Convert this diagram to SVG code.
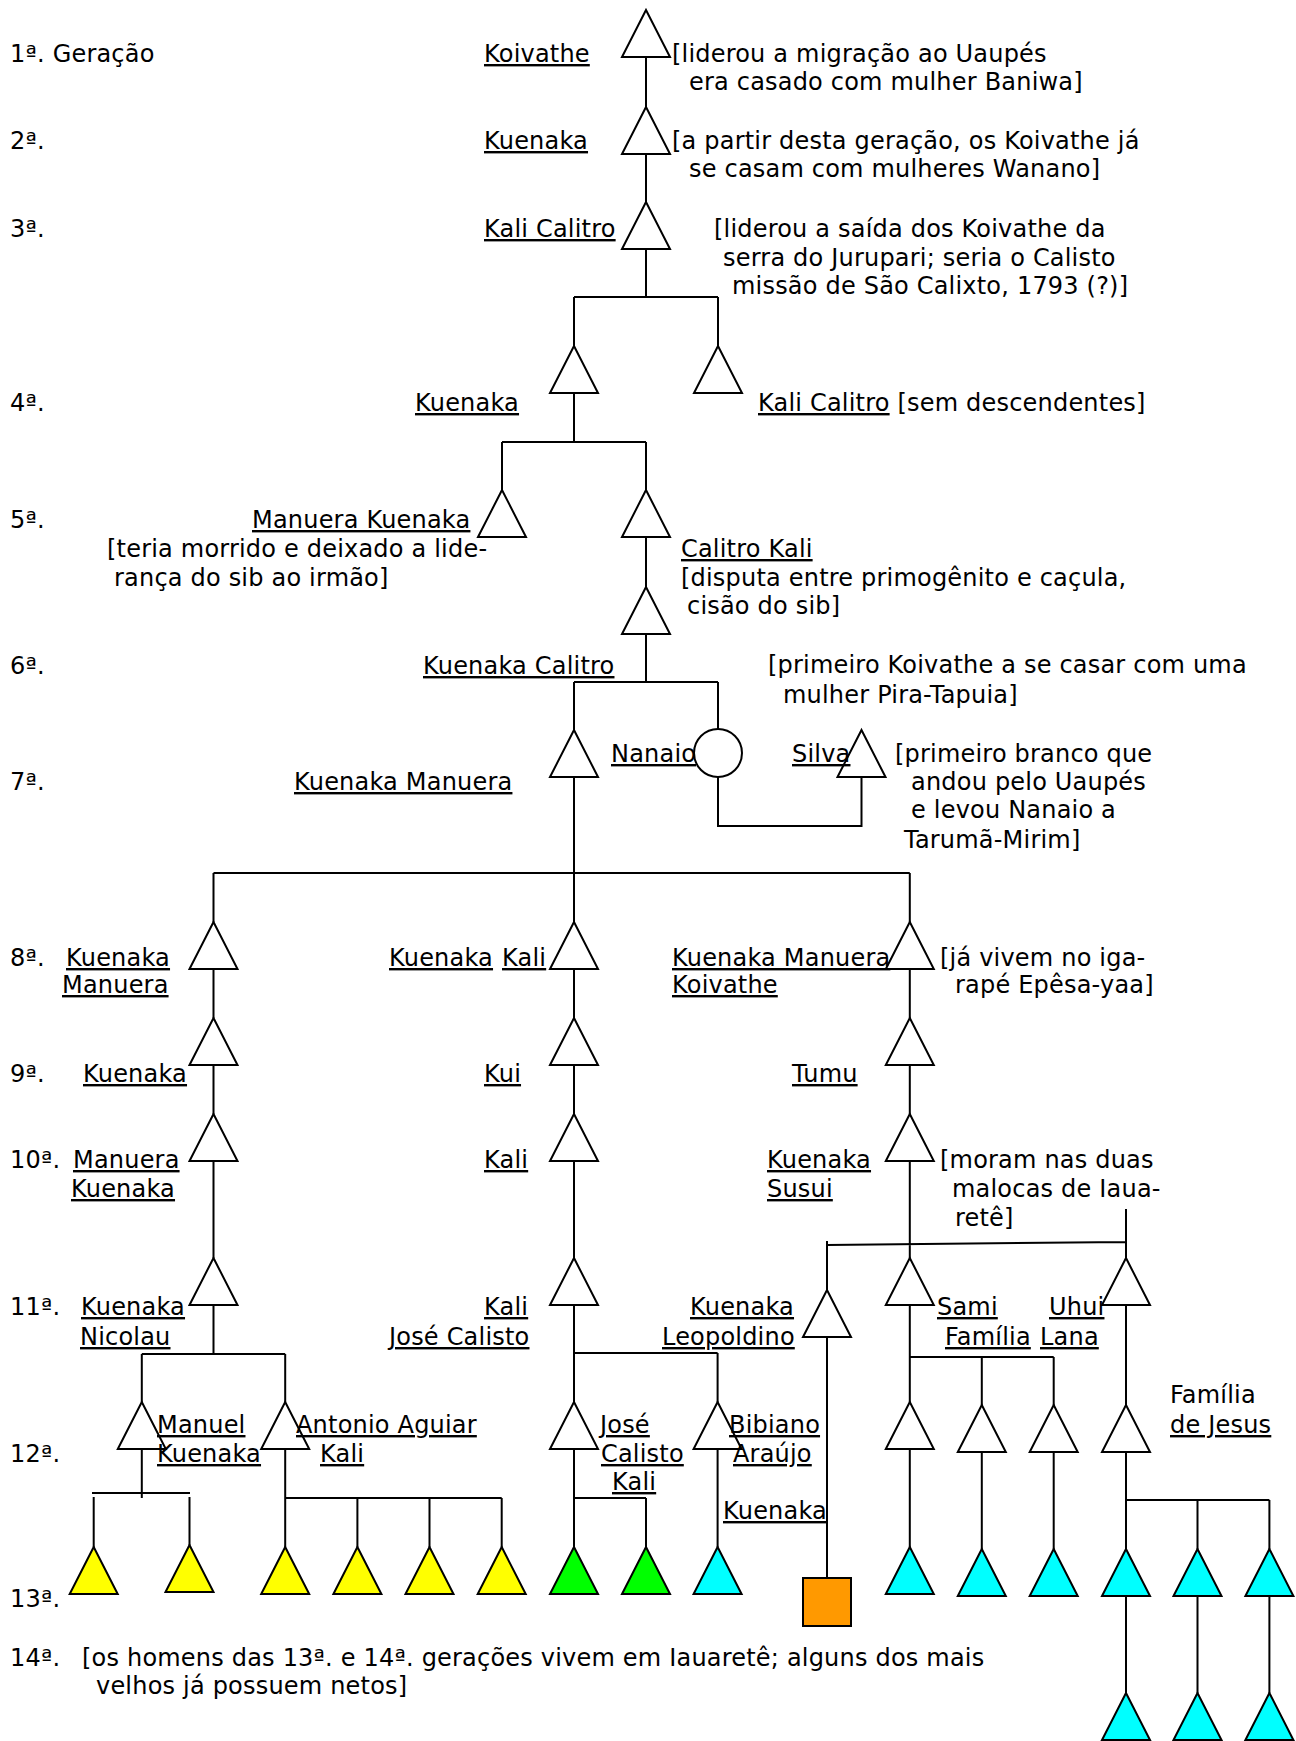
<svg xmlns="http://www.w3.org/2000/svg" xmlns:xlink="http://www.w3.org/1999/xlink" width="1296" height="1741" viewBox="0 0 1296 1741">
<style>
text{font-family:"DejaVu Sans",Verdana,sans-serif;font-size:24px;letter-spacing:0.2px;fill:#000}
.u{text-decoration:underline;text-decoration-thickness:2px;text-underline-offset:3px}
.sh{stroke:#000;stroke-width:2;fill:#fff}
.ye{fill:#ffff00}
.gr{fill:#00ff00}
.cy{fill:#00ffff}
.or{fill:#ff9900;stroke:#000;stroke-width:2}
.ln{stroke:#000;stroke-width:2;fill:none}
</style>
<defs>
<path id="tri" d="M0 0 L24 47 L-24 47 Z"/>
</defs>
<rect width="1296" height="1741" fill="#fff"/>

<g id="connectors" class="ln">
<path d="M646 57V107M646 154V202M646 249V297M574 297H718M574 297V346M718 297V346"/>
<path d="M574 393V442M502 442H646M502 442V490M646 442V490M646 537V587"/>
<path d="M646 634V682M574 682H718M574 682V730M718 682V729"/>
<path d="M718 777V826H861.5V777"/>
<path d="M574 777V873M213.5 873H909.8M213.5 873V922M574 873V922M909.8 873V922"/>
<path d="M213.5 969V1018M213.5 1065V1114M213.5 1161V1258M213.5 1305V1354M141.8 1354H285.2M141.8 1354V1402M285.2 1354V1402"/>
<path d="M141.8 1449V1498M92 1493H190M93.7 1497V1547M189.5 1497V1545"/>
<path d="M285.2 1449V1547M285.2 1498H501.7M357.4 1498V1547M429.5 1498V1547M501.7 1498V1547"/>
<path d="M574 969V1018M574 1065V1114M574 1161V1258M574 1305V1402M574 1353H717.6M717.6 1353V1402"/>
<path d="M574 1449V1547M574 1498H646M646 1498V1547M717.6 1449V1547"/>
<path d="M909.8 969V1018M909.8 1065V1114M909.8 1161V1258M827 1245L1126 1242M827 1241V1290M1126 1209V1258M827 1337V1578"/>
<path d="M909.8 1305V1402M909.8 1357H1053.7M981.8 1357V1405M1053.7 1357V1405M909.8 1449V1547M981.8 1452V1549M1053.7 1452V1549"/>
<path d="M1126 1305V1405M1126 1452V1549M1126 1500H1269.4M1197.5 1500V1549M1269.4 1500V1549"/>
<path d="M1126 1596V1693M1197.5 1596V1693M1269.4 1596V1693"/>
</g>

<g id="generations">
<text x="10" y="62">1ª. Geração</text>
<text x="10" y="149">2ª.</text>
<text x="10" y="237">3ª.</text>
<text x="10" y="411">4ª.</text>
<text x="10" y="528">5ª.</text>
<text x="10" y="674">6ª.</text>
<text x="10" y="790">7ª.</text>
<text x="10" y="966">8ª.</text>
<text x="10" y="1082">9ª.</text>
<text x="10" y="1168">10ª.</text>
<text x="10" y="1315">11ª.</text>
<text x="10" y="1462">12ª.</text>
<text x="10" y="1607">13ª.</text>
<text x="10" y="1666">14ª.</text>
</g>

<g id="n-koivathe"><use href="#tri" x="646" y="10" class="sh"/><text class="u" x="484" y="62">Koivathe</text>
<text x="672" y="62">[liderou a migração ao Uaupés</text><text x="689" y="90">era casado com mulher Baniwa]</text></g>
<g id="n-kuenaka2"><use href="#tri" x="646" y="107" class="sh"/><text class="u" x="484" y="149">Kuenaka</text>
<text x="672" y="149">[a partir desta geração, os Koivathe já</text><text x="689" y="177">se casam com mulheres Wanano]</text></g>
<g id="n-kalicalitro3"><use href="#tri" x="646" y="202" class="sh"/><text class="u" x="484" y="237">Kali Calitro</text>
<text x="714" y="237">[liderou a saída dos Koivathe da</text><text x="723" y="266">serra do Jurupari; seria o Calisto</text><text x="732" y="294">missão de São Calixto, 1793 (?)]</text></g>
<g id="n-kuenaka4"><use href="#tri" x="574" y="346" class="sh"/><text class="u" x="415" y="411">Kuenaka</text></g>
<g id="n-kalicalitro4"><use href="#tri" x="718" y="346" class="sh"/><text x="758" y="411"><tspan class="u">Kali Calitro</tspan><tspan> [sem descendentes]</tspan></text></g>
<g id="n-manuerakuenaka5"><use href="#tri" x="502" y="490" class="sh"/><text class="u" x="252" y="528">Manuera Kuenaka</text>
<text x="107" y="557">[teria morrido e deixado a lide-</text><text x="114" y="586">rança do sib ao irmão]</text></g>
<g id="n-calitrokali5"><use href="#tri" x="646" y="490" class="sh"/><text class="u" x="681" y="557">Calitro Kali</text>
<text x="681" y="586">[disputa entre primogênito e caçula,</text><text x="687" y="614">cisão do sib]</text></g>
<g id="n-kuenakacalitro6"><use href="#tri" x="646" y="587" class="sh"/><text class="u" x="423" y="674">Kuenaka Calitro</text>
<text x="768" y="673">[primeiro Koivathe a se casar com uma</text><text x="783" y="703">mulher Pira-Tapuia]</text></g>
<g id="n-kuenakamanuera7"><use href="#tri" x="574" y="730" class="sh"/><text class="u" x="294" y="790">Kuenaka Manuera</text></g>
<g id="n-nanaio"><circle cx="718" cy="753" r="24" class="sh"/><text class="u" x="611" y="762">Nanaio</text></g>
<g id="n-silva"><use href="#tri" x="861.5" y="730" class="sh"/><text class="u" x="792" y="762">Silva</text>
<text x="895" y="762">[primeiro branco que</text><text x="911" y="790">andou pelo Uaupés</text><text x="911" y="818">e levou Nanaio a</text><text x="904" y="848">Tarumã-Mirim]</text></g>

<g id="n-a8"><use href="#tri" x="213.5" y="922" class="sh"/><text class="u" x="66" y="966">Kuenaka</text><text class="u" x="62" y="993">Manuera</text></g>
<g id="n-b8"><use href="#tri" x="574" y="922" class="sh"/><text class="u" x="389" y="966">Kuenaka</text><text class="u" x="502" y="966">Kali</text></g>
<g id="n-c8"><use href="#tri" x="909.8" y="922" class="sh"/><text class="u" x="672" y="966">Kuenaka Manuera</text><text class="u" x="672" y="993">Koivathe</text>
<text x="940" y="966">[já vivem no iga-</text><text x="955" y="993">rapé Epêsa-yaa]</text></g>

<g id="n-a9"><use href="#tri" x="213.5" y="1018" class="sh"/><text class="u" x="83" y="1082">Kuenaka</text></g>
<g id="n-b9"><use href="#tri" x="574" y="1018" class="sh"/><text class="u" x="484" y="1082">Kui</text></g>
<g id="n-c9"><use href="#tri" x="909.8" y="1018" class="sh"/><text class="u" x="792" y="1082">Tumu</text></g>

<g id="n-a10"><use href="#tri" x="213.5" y="1114" class="sh"/><text class="u" x="73" y="1168">Manuera</text><text class="u" x="71" y="1197">Kuenaka</text></g>
<g id="n-b10"><use href="#tri" x="574" y="1114" class="sh"/><text class="u" x="484" y="1168">Kali</text></g>
<g id="n-c10"><use href="#tri" x="909.8" y="1114" class="sh"/><text class="u" x="767" y="1168">Kuenaka</text><text class="u" x="767" y="1197">Susui</text>
<text x="940" y="1168">[moram nas duas</text><text x="952" y="1197">malocas de Iaua-</text><text x="955" y="1226">retê]</text></g>

<g id="n-a11"><use href="#tri" x="213.5" y="1258" class="sh"/><text class="u" x="81" y="1315">Kuenaka</text><text class="u" x="80" y="1345">Nicolau</text></g>
<g id="n-b11"><use href="#tri" x="574" y="1258" class="sh"/><text class="u" x="484" y="1315">Kali</text><text class="u" x="389" y="1345">José Calisto</text></g>
<g id="n-leopoldino"><use href="#tri" x="827" y="1290" class="sh"/><text class="u" x="690" y="1315">Kuenaka</text><text class="u" x="662" y="1345">Leopoldino</text></g>
<g id="n-sami"><use href="#tri" x="909.8" y="1258" class="sh"/><text class="u" x="937" y="1315">Sami</text><text class="u" x="945" y="1345">Família</text></g>
<g id="n-uhui"><use href="#tri" x="1126" y="1258" class="sh"/><text class="u" x="1049" y="1315">Uhui</text><text class="u" x="1040" y="1345">Lana</text></g>

<g id="n-manuel"><use href="#tri" x="141.8" y="1402" class="sh"/><text class="u" x="157" y="1433">Manuel</text><text class="u" x="157" y="1462">Kuenaka</text></g>
<g id="n-antonio"><use href="#tri" x="285.2" y="1402" class="sh"/><text class="u" x="296" y="1433">Antonio Aguiar</text><text class="u" x="320" y="1462">Kali</text></g>
<g id="n-jose"><use href="#tri" x="574" y="1402" class="sh"/><text class="u" x="600" y="1433">José</text><text class="u" x="601" y="1462">Calisto</text><text class="u" x="612" y="1490">Kali</text></g>
<g id="n-bibiano"><use href="#tri" x="717.6" y="1402" class="sh"/><text class="u" x="729" y="1433">Bibiano</text><text class="u" x="733" y="1462">Araújo</text></g>
<g id="n-sami12a"><use href="#tri" x="909.8" y="1402" class="sh"/></g>
<g id="n-sami12b"><use href="#tri" x="981.8" y="1405" class="sh"/></g>
<g id="n-sami12c"><use href="#tri" x="1053.7" y="1405" class="sh"/></g>
<g id="n-jesus"><use href="#tri" x="1126" y="1405" class="sh"/><text x="1170" y="1403">Família</text><text class="u" x="1170" y="1433">de Jesus</text></g>

<g id="n-y1"><use href="#tri" x="93.7" y="1547" class="sh ye"/></g>
<g id="n-y2"><use href="#tri" x="189.5" y="1545" class="sh ye"/></g>
<g id="n-y3"><use href="#tri" x="285.2" y="1547" class="sh ye"/></g>
<g id="n-y4"><use href="#tri" x="357.4" y="1547" class="sh ye"/></g>
<g id="n-y5"><use href="#tri" x="429.5" y="1547" class="sh ye"/></g>
<g id="n-y6"><use href="#tri" x="501.7" y="1547" class="sh ye"/></g>
<g id="n-g1"><use href="#tri" x="574" y="1547" class="sh gr"/></g>
<g id="n-g2"><use href="#tri" x="646" y="1547" class="sh gr"/></g>
<g id="n-c1"><use href="#tri" x="717.6" y="1547" class="sh cy"/></g>
<g id="n-kuenaka13"><rect x="803" y="1578" width="48" height="48" class="or"/><text class="u" x="723" y="1519">Kuenaka</text></g>
<g id="n-c2"><use href="#tri" x="909.8" y="1547" class="sh cy"/></g>
<g id="n-c3"><use href="#tri" x="981.8" y="1549" class="sh cy"/></g>
<g id="n-c4"><use href="#tri" x="1053.7" y="1549" class="sh cy"/></g>
<g id="n-c5"><use href="#tri" x="1126" y="1549" class="sh cy"/></g>
<g id="n-c6"><use href="#tri" x="1197.5" y="1549" class="sh cy"/></g>
<g id="n-c7"><use href="#tri" x="1269.4" y="1549" class="sh cy"/></g>
<g id="n-d1"><use href="#tri" x="1126" y="1693" class="sh cy"/></g>
<g id="n-d2"><use href="#tri" x="1197.5" y="1693" class="sh cy"/></g>
<g id="n-d3"><use href="#tri" x="1269.4" y="1693" class="sh cy"/></g>

<g id="note14">
<text x="82" y="1666">[os homens das 13ª. e 14ª. gerações vivem em Iauaretê; alguns dos mais</text>
<text x="96" y="1694">velhos já possuem netos]</text>
</g>
</svg>
